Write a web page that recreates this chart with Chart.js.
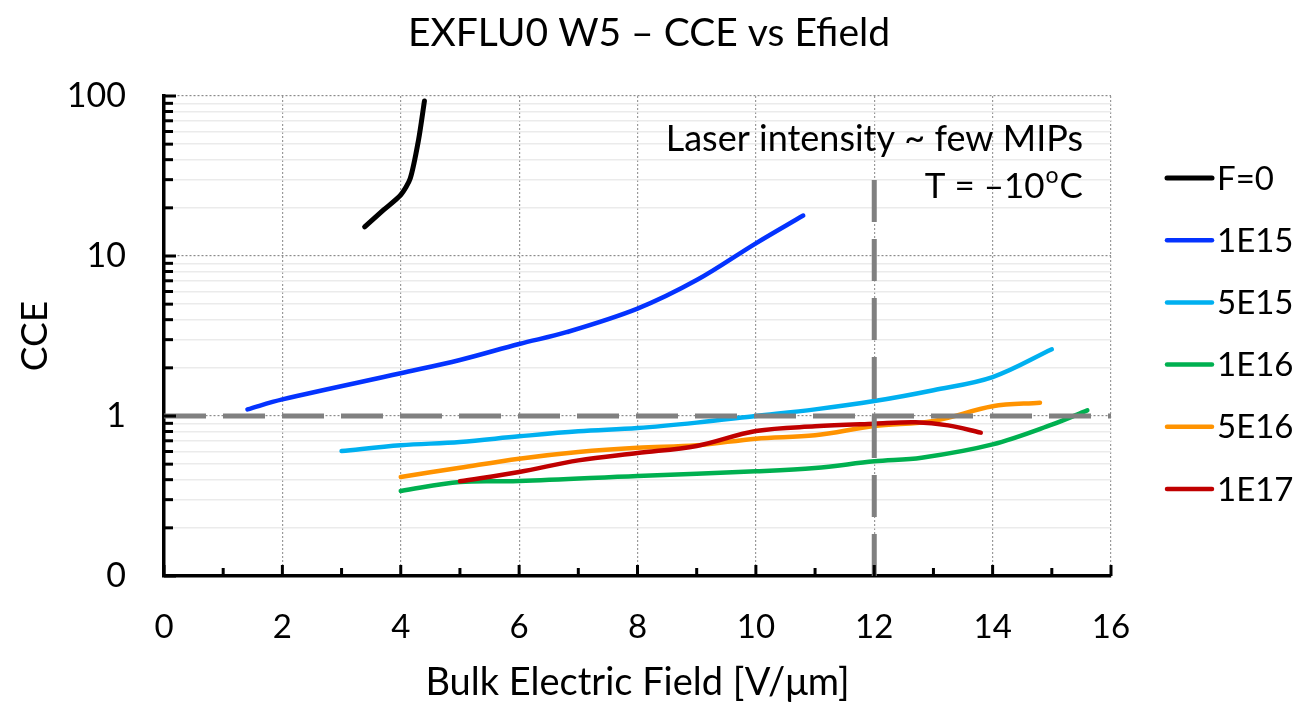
<!DOCTYPE html>
<html>
<head>
<meta charset="utf-8">
<script src="https://cdn.jsdelivr.net/npm/chart.js@4.4.1/dist/chart.umd.min.js"></script>
<style>
  html, body { margin: 0; padding: 0; background: #fff; }
</style>
</head>
<body>
<canvas id="chart" width="1298" height="706"></canvas>
<script>
const FONT = "Lato, 'Open Sans', sans-serif";

const chartTitle = "EXFLU0 W5 \u2013 CCE vs Efield";
const seriesNames = ["F=0", "1E15", "5E15", "1E16", "5E16", "1E17"];
const seriesColors = ["#000000", "#0433ff", "#00b0f0", "#00b050", "#ff9300", "#c00000"];

// values (x = bulk field V/um, y = CCE)
const f0X   = [3.39, 3.71, 4.0, 4.16, 4.30, 4.40];
const f0Y   = [15.2, 19.4, 24.1, 30.5, 53, 93];
const e15X  = [1.41, 2.0, 4.0, 5.0, 6.0, 6.8, 8.0, 9.0, 10.0, 10.8];
const e15Y  = [1.10, 1.27, 1.85, 2.24, 2.82, 3.34, 4.69, 7.07, 12.0, 17.9];
const e5e15X = [3.0, 4.0, 5.0, 6.0, 7.0, 8.0, 9.0, 10.0, 11.0, 12.0, 13.0, 14.0, 15.0];
const e5e15Y = [0.604, 0.656, 0.688, 0.746, 0.802, 0.841, 0.909, 1.0, 1.10, 1.24, 1.45, 1.75, 2.61];
const e16X  = [4.0, 5.0, 6.0, 8.0, 10.0, 11.0, 12.0, 12.8, 14.0, 15.0, 15.6];
const e16Y  = [0.34, 0.387, 0.392, 0.422, 0.451, 0.473, 0.521, 0.549, 0.665, 0.883, 1.085];
const e5e16X = [4, 5, 6, 7, 8, 9, 10, 11, 12, 13, 14, 14.8];
const e5e16Y = [0.416, 0.475, 0.541, 0.596, 0.634, 0.656, 0.722, 0.757, 0.866, 0.93, 1.15, 1.21];
const e17X  = [5, 6, 7, 8, 9, 10, 11, 12, 12.7, 13.25, 13.8];
const e17Y  = [0.391, 0.447, 0.528, 0.587, 0.65, 0.806, 0.862, 0.895, 0.913, 0.874, 0.787];

const seriesX = [f0X, e15X, e5e15X, e16X, e5e16X, e17X];
const seriesY = [f0Y, e15Y, e5e15Y, e16Y, e5e16Y, e17Y];

// dashed reference lines: CCE = 1 and E = 12 V/um
const unityX = [0, 16];
const unityY = [1, 1];
const fieldX = [12, 12];
const fieldY = [0.1, 30];

// log axis ticks
const yDecades = [0.1, 1, 10];
const ySignificands = [1, 2, 3, 4, 5, 6, 7, 8, 9];
const yTickLabels = { "0.1": "0", "1": "1", "10": "10", "100": "100" };

const toPoints = (xs, ys) => xs.map((x, i) => ({ x, y: ys[i] }));

const datasets = seriesNames.map((name, i) => ({
    label: name,
    data: toPoints(seriesX[i], seriesY[i]),
    borderColor: seriesColors[i],
    borderWidth: i === 0 ? 5 : 4.5,
    pointRadius: 0,
    tension: i === 0 ? 0.25 : 0.35,
    borderCapStyle: "round",
    order: 10 - i,
}));
[[unityX, unityY], [fieldX, fieldY]].forEach(([xs, ys]) => {
    datasets.push({
        label: "",
        data: toPoints(xs, ys),
        borderColor: "#808080",
        borderWidth: 5,
        borderDash: [42, 17],
        pointRadius: 0,
        tension: 0,
        order: 0,
        isRef: true,
    });
});

const isMajorY = v => Object.keys(yTickLabels).some(k => Math.abs(Number(k) - v) < 1e-9);

const decor = {
    id: "decor",
    afterDraw(chart) {
        const { ctx, chartArea: a, scales: { x, y } } = chart;
        ctx.save();
        // inward tick marks
        ctx.strokeStyle = "#000";
        ctx.lineWidth = 3;
        x.ticks.forEach(t => {
            const px = x.getPixelForValue(t.value);
            const len = t.value % 2 === 0 ? 11 : 8;
            ctx.beginPath(); ctx.moveTo(px, a.bottom); ctx.lineTo(px, a.bottom - len); ctx.stroke();
        });
        y.ticks.forEach(t => {
            const py = y.getPixelForValue(t.value);
            const len = isMajorY(t.value) ? 12 : 9;
            ctx.beginPath(); ctx.moveTo(a.left, py); ctx.lineTo(a.left + len, py); ctx.stroke();
        });

        // title
        ctx.fillStyle = "#000";
        ctx.textAlign = "center";
        ctx.textBaseline = "middle";
        ctx.font = `39px ${FONT}`;
        ctx.fillText(chartTitle, chart.width / 2, 33);

        // annotation text
        ctx.font = `36px ${FONT}`;
        ctx.textAlign = "right";
        const tx = a.right - 28;
        ctx.fillText("Laser intensity ~ few MIPs", tx, a.top + 43);
        ctx.font = `35px ${FONT}`;
        const cw = ctx.measureText("C").width;
        ctx.fillText("C", tx, a.top + 91);
        ctx.font = `23px ${FONT}`;
        const ow = ctx.measureText("o").width;
        ctx.fillText("o", tx - cw - 1, a.top + 80);
        ctx.font = `35px ${FONT}`;
        ctx.fillText("T = \u201310", tx - cw - ow - 2, a.top + 91);

        // legend
        ctx.font = `33px ${FONT}`;
        ctx.textAlign = "left";
        chart.data.datasets.filter(d => !d.isRef).forEach((d, i) => {
            const ly = a.top + 82 + i * 62.2;
            ctx.strokeStyle = d.borderColor;
            ctx.lineWidth = i === 0 ? 5 : 4.5;
            ctx.lineCap = "round";
            ctx.beginPath(); ctx.moveTo(a.right + 56, ly); ctx.lineTo(a.right + 101, ly); ctx.stroke();
            ctx.fillStyle = "#000";
            ctx.fillText(d.label, a.right + 106, ly + 1);
        });
        ctx.restore();
    },
};

new Chart(document.getElementById("chart"), {
    type: "line",
    data: { datasets },
    plugins: [decor],
    options: {
        responsive: false,
        animation: false,
        layout: { padding: { left: 0, right: 187, top: 96, bottom: 0 } },
        scales: {
            x: {
                type: "linear",
                min: 0,
                max: 16,
                afterFit: s => { s.height = 130; },
                ticks: {
                    stepSize: 1,
                    autoSkip: false,
                    maxRotation: 0,
                    padding: 32,
                    color: "#000",
                    font: { family: FONT, size: 33 },
                    callback: v => (v % 2 === 0 ? String(v) : ""),
                },
                grid: {
                    drawTicks: false,
                    lineWidth: 1.2,
                    color: c => (c.tick && c.tick.value % 2 === 0 && c.tick.value > 0 ? "#9a9a9a" : "rgba(0,0,0,0)"),
                },
                border: { display: true, color: "#000", width: 3.5, dash: [2, 2] },
                title: {
                    display: true,
                    text: "Bulk Electric Field [V/\u03bcm]",
                    color: "#000",
                    font: { family: FONT, size: 38 },
                    padding: { top: 0, bottom: 0 },
                },
            },
            y: {
                type: "logarithmic",
                min: 0.1,
                max: 100,
                afterFit: s => { s.width = 164; },
                afterBuildTicks: s => {
                    const ticks = [];
                    yDecades.forEach(d => ySignificands.forEach(m => ticks.push({ value: +(d * m).toPrecision(3) })));
                    ticks.push({ value: 100 });
                    s.ticks = ticks;
                },
                ticks: {
                    autoSkip: false,
                    padding: 38,
                    color: "#000",
                    font: { family: FONT, size: 34 },
                    callback: v => yTickLabels[String(+v.toPrecision(3))] ?? "",
                },
                grid: {
                    drawTicks: false,
                    lineWidth: c => (c.tick && isMajorY(c.tick.value) ? 1.2 : 1.5),
                    color: c => (c.tick && isMajorY(c.tick.value) ? "#8c8c8c" : "#ebebeb"),
                },
                border: {
                    display: true,
                    color: "#000",
                    width: 3.5,
                    dash: c => (c.tick && isMajorY(c.tick.value) ? [2, 2] : []),
                },
                title: {
                    display: true,
                    text: "CCE",
                    color: "#000",
                    font: { family: FONT, size: 37 },
                    padding: { top: 13, bottom: 0 },
                },
            },
        },
        plugins: {
            legend: { display: false },
            tooltip: { enabled: false },
            title: { display: false },
        },
    },
});
</script>
</body>
</html>
